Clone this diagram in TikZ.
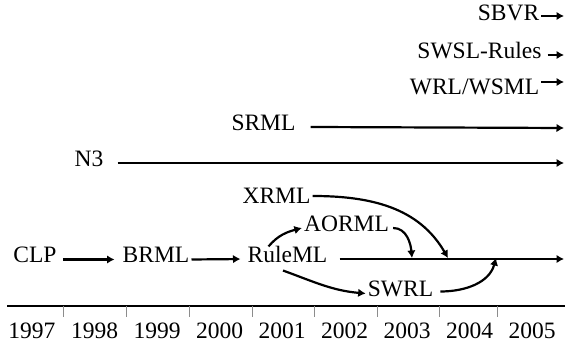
\documentclass[tikz,border=0pt]{standalone}
\usepackage{fontspec}
\setmainfont{Liberation Serif}
\usetikzlibrary{arrows.meta}

\begin{document}
\begin{tikzpicture}[x=1pt,y=1pt,
    lang/.style={inner sep=2pt,text height=1.45ex,text depth=0pt,
      font=\fontsize{23.5}{27}\selectfont},
    evol/.style={line width=2.2pt,-{Latex[length=7.5pt,width=8.5pt]}}]
  \useasboundingbox (0,0) rectangle (565,352);

  % time axis
  \draw[line width=1.8pt] (7,46) -- (565,46);
  \foreach \tx in {63.5,126.5,189,252,314,377,439,497}
    \draw[color=black!45,line width=0.8pt] (\tx,46) -- (\tx,35);
  \foreach \yr [count=\i from 0] in {1997,1998,1999,2000,2001,2002,2003,2004,2005}
    \node[lang] (y\yr) at ({32+62.5*\i},17) {\yr};

  % languages
  \node[lang] (clp)    at (35,92.5)   {CLP};
  \node[lang] (brml)   at (156,92.5)  {BRML};
  \node[lang] (ruleml) at (287.5,93)  {RuleML};
  \node[lang] (xrml)   at (276.5,152) {XRML};
  \node[lang] (aorml)  at (346.5,124) {AORML};
  \node[lang] (swrl)   at (400.5,58.5) {SWRL};
  \node[lang] (n3)     at (89,189)    {N3};
  \node[lang] (srml)   at (263.5,225) {SRML};
  \node[lang] (wrl)    at (474.5,261) {WRL/WSML};
  \node[lang] (swsl)   at (479.5,297) {SWSL-Rules};
  \node[lang] (sbvr)   at (508.5,335) {SBVR};

  \coordinate (mainEnd) at (564,93);
  \coordinate (aormlIn) at (412,94);
  \coordinate (xrmlIn)  at (448,94);
  \coordinate (swrlIn)  at (496,94);

  % evolution
  \draw[evol,shorten >=6pt,shorten <=4pt] (clp.east) -- (brml.west);
  \draw[evol,shorten >=5pt] (brml.east) -- (ruleml.west);
  \draw[evol] ([xshift=10pt]ruleml.east) -- (mainEnd);
  \draw[evol] ([xshift=-19pt,yshift=7pt]ruleml.north) to[out=50,in=195] (aorml.west);
  \draw[evol] ([xshift=-4.5pt,yshift=-6pt]ruleml.south) to[out=-20,in=175] (swrl.west);
  \draw[evol] ([xshift=2pt]aorml.east) to[out=0,in=95] (aormlIn);
  \draw[evol] ([yshift=4pt]xrml.east) to[out=0,in=120] (xrmlIn);
  \draw[evol] ([xshift=5pt,yshift=2pt]swrl.east) to[out=0,in=-105] (swrlIn);

  \draw[evol] ([xshift=12pt]n3.east) -- (564,189);
  \draw[evol] ([xshift=13pt]srml.east) -- (564,224);
  \draw[evol] ([yshift=9pt]wrl.east) -- (564,270);
  \draw[evol] ([xshift=4pt]swsl.east) -- (564,297);
  \draw[evol] ([yshift=1pt]sbvr.east) -- (564,336);
\end{tikzpicture}
\end{document}
